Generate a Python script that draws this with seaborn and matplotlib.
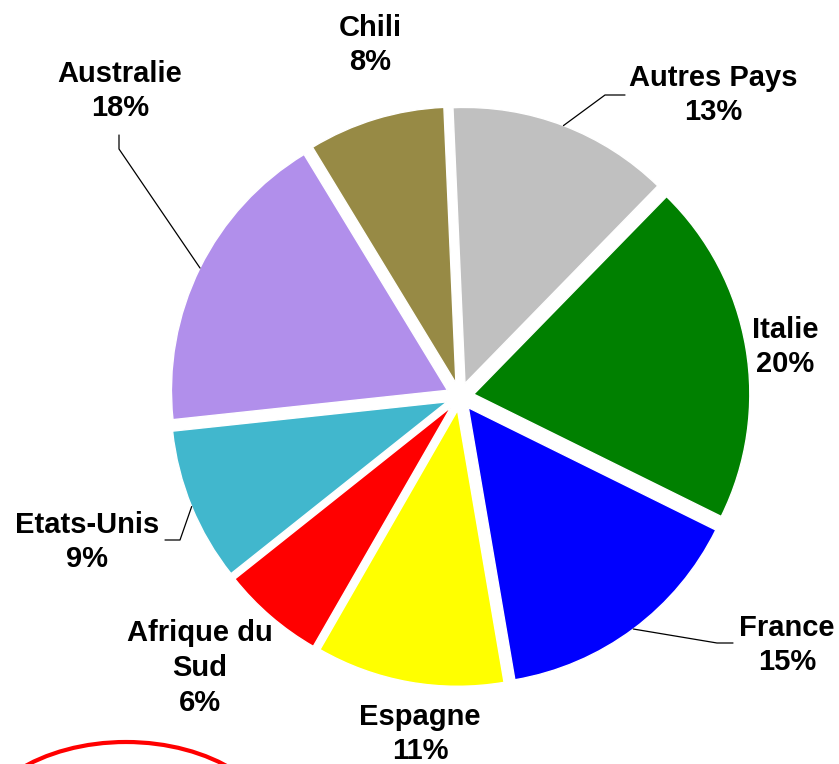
import matplotlib

matplotlib.use("Agg")
import matplotlib.pyplot as plt
import numpy as np
import seaborn as sns
from matplotlib.patches import Ellipse

sns.set_theme(style="white")
plt.rcParams["font.family"] = ["Liberation Sans", "DejaVu Sans"]

# data (clockwise from 12 o'clock)
countries = ["Autres Pays", "Italie", "France", "Espagne", "Afrique du\nSud",
             "Etats-Unis", "Australie", "Chili"]
shares = [13, 20, 15, 11, 6, 9, 18, 8]
colors = ["#C0C0C0", "#008000", "#0000FF", "#FFFF00", "#FF0000",
          "#41B7CD", "#B18FEB", "#978A45"]

# layout, in pixel coordinates of the 839x764 canvas (y measured from top)
W, H = 839, 764
center_px = (460, 396.5)
radius = 276
explode_px = 14
label_pos = [(713, 95), (785, 347), (787, 645), (420, 734), (200, 668),
             (87, 542), (120, 91), (370, 45)]
# elbow points of leader lines (label side), None = no leader line
elbows = [[(625, 95), (605, 95)], None, [(733, 643), (717, 643)], None, None,
          [(165, 540), (180, 540)], [(119, 135), (119, 149)], None]


def py(y):
    return H - y


fig = plt.figure(figsize=(W / 100, H / 100), dpi=100)
ax = fig.add_axes([0, 0, 1, 1])

cx, cy = center_px[0], py(center_px[1])
# matplotlib offsets exploded wedges in data units
wedges, _ = ax.pie(
    shares, colors=colors, startangle=92.5, counterclock=False,
    center=(cx, cy), radius=radius,
    explode=[explode_px] * len(shares),
    wedgeprops=dict(edgecolor="white", linewidth=1),
    frame=True,
)
ax.set_xlim(0, W)
ax.set_ylim(0, H)
ax.set_aspect("equal")
ax.axis("off")

for wedge, name, share, (lx, ly), elbow in zip(wedges, countries, shares, label_pos, elbows):
    if elbow is not None:
        mid = np.deg2rad((wedge.theta1 + wedge.theta2) / 2)
        wx, wy = wedge.center
        ex = wx + wedge.r * np.cos(mid)
        ey = wy + wedge.r * np.sin(mid)
        xs = [elbow[0][0], elbow[1][0], ex]
        ys = [py(elbow[0][1]), py(elbow[1][1]), ey]
        ax.plot(xs, ys, color="black", linewidth=0.9, zorder=3)
    ax.text(lx, py(ly), f"{name}\n{share}%", ha="center", va="center",
            fontsize=21, fontweight="bold", color="black", linespacing=1.3,
            bbox=dict(facecolor="white", edgecolor="none", pad=1), zorder=4)

# red highlight circle at the bottom left
ax.add_patch(Ellipse((126, py(842)), 310, 200, fill=False,
                     edgecolor="#FF0000", linewidth=3, zorder=5))

fig.savefig("out.png", dpi=100)
